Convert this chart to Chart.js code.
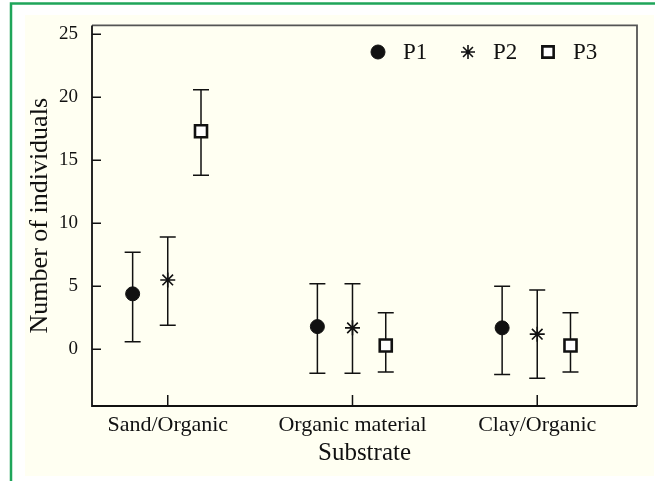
<!DOCTYPE html>
<html>
<head>
<meta charset="utf-8">
<script src="https://cdn.jsdelivr.net/npm/chart.js@4/dist/chart.umd.min.js"></script>
<style>
  html, body { margin: 0; padding: 0; background: #fff; }
  #wrap { width: 655px; height: 481px; position: relative; }
</style>
</head>
<body>
<div id="wrap"><canvas id="substrateChart" width="655" height="481"></canvas></div>
<script>
// categories and series (mean, lower, upper)
const substrates = ["Sand/Organic", "Organic material", "Clay/Organic"];
const seriesNames = ["P1", "P2", "P3"];
const p1Mean = [4.4, 1.8, 1.7];
const p1Low = [0.6, -1.9, -2.0];
const p1High = [7.7, 5.2, 5.0];
const p2Mean = [5.5, 1.7, 1.2];
const p2Low = [1.9, -1.9, -2.3];
const p2High = [8.9, 5.2, 4.7];
const p3Mean = [17.3, 0.3, 0.3];
const p3Low = [13.8, -1.8, -1.8];
const p3High = [20.6, 2.9, 2.9];
const yTicks = [0, 5, 10, 15, 20, 25];

const serif = "'Liberation Serif', 'DejaVu Serif', serif";
const ink = "#111";

// offset of each series inside a category group
const groupOffset = [-0.19, 0, 0.18];

function makeSet(idx, means, lows, highs, style) {
  return Object.assign({
    label: seriesNames[idx],
    data: means.map((m, i) => ({ x: i + 1 + groupOffset[idx], y: m, lo: lows[i], hi: highs[i] })),
    borderColor: ink,
    showLine: false,
  }, style);
}

const datasets = [
  makeSet(0, p1Mean, p1Low, p1High, { pointStyle: "circle", pointRadius: 7, backgroundColor: ink, borderWidth: 1 }),
  makeSet(1, p2Mean, p2Low, p2High, { pointStyle: "star", pointRadius: 7.5, backgroundColor: ink, borderWidth: 1.6 }),
  makeSet(2, p3Mean, p3Low, p3High, { pointStyle: "rect", pointRadius: 8.5, backgroundColor: "#fff", borderWidth: 2.6 }),
];

// page background: green frame + cream panel
const backdrop = {
  id: "backdrop",
  beforeDraw(chart) {
    const c = chart.ctx;
    c.save();
    c.fillStyle = "#fff";
    c.fillRect(0, 0, chart.width, chart.height);
    c.fillStyle = "#fffff2";
    c.fillRect(25, 15, 629, 461);
    c.strokeStyle = "#1fa55a";
    c.lineWidth = 2.5;
    c.strokeRect(11, 3.5, 654, 490);
    c.restore();
  }
};

// error bars with caps
const errorBars = {
  id: "errorBars",
  beforeDatasetsDraw(chart) {
    const c = chart.ctx;
    const xs = chart.scales.x, ys = chart.scales.y;
    c.save();
    c.strokeStyle = ink;
    c.lineWidth = 1.5;
    chart.data.datasets.forEach(ds => {
      ds.data.forEach(p => {
        const x = xs.getPixelForValue(p.x);
        const y1 = ys.getPixelForValue(p.lo);
        const y2 = ys.getPixelForValue(p.hi);
        c.beginPath();
        c.moveTo(x, y1); c.lineTo(x, y2);
        c.moveTo(x - 8, y1); c.lineTo(x + 8, y1);
        c.moveTo(x - 8, y2); c.lineTo(x + 8, y2);
        c.stroke();
      });
    });
    c.restore();
  }
};

// box frame and inward ticks
const frame = {
  id: "frame",
  afterDraw(chart) {
    const c = chart.ctx;
    const a = chart.chartArea;
    const xs = chart.scales.x, ys = chart.scales.y;
    c.save();
    c.lineWidth = 1.8;
    c.strokeStyle = "#555";
    c.beginPath();
    c.moveTo(a.left, a.top); c.lineTo(a.right, a.top); c.lineTo(a.right, a.bottom);
    c.stroke();
    c.strokeStyle = ink;
    c.beginPath();
    c.moveTo(a.left, a.top); c.lineTo(a.left, a.bottom); c.lineTo(a.right, a.bottom);
    c.stroke();
    c.lineWidth = 1.5;
    c.beginPath();
    ys.ticks.forEach(t => {
      const y = ys.getPixelForValue(t.value);
      c.moveTo(a.left, y); c.lineTo(a.left + 9, y);
    });
    xs.ticks.forEach(t => {
      const x = xs.getPixelForValue(t.value);
      c.moveTo(x, a.bottom); c.lineTo(x, a.bottom - 11);
    });
    c.stroke();
    c.restore();
  }
};

// legend drawn inside the plot, top right
const insideLegend = {
  id: "insideLegend",
  afterDraw(chart) {
    const c = chart.ctx;
    const xs = [378, 468, 548];
    c.save();
    c.font = "23px " + serif;
    c.textBaseline = "middle";
    chart.data.datasets.forEach((ds, i) => {
      c.strokeStyle = ds.borderColor;
      c.fillStyle = ds.backgroundColor;
      c.lineWidth = ds.borderWidth;
      Chart.helpers.drawPoint(c, {
        pointStyle: ds.pointStyle,
        radius: ds.pointStyle === "rect" ? 8 : 7,
        rotation: 0,
        borderWidth: ds.borderWidth,
      }, xs[i], 52);
      c.fillStyle = ink;
      c.fillText(ds.label, xs[i] + 25, 53);
    });
    c.restore();
  }
};

new Chart(document.getElementById("substrateChart"), {
  type: "scatter",
  data: { datasets },
  plugins: [backdrop, errorBars, frame, insideLegend],
  options: {
    responsive: false,
    animation: false,
    layout: { padding: { left: 25, top: 25, right: 18, bottom: 6 } },
    plugins: { legend: { display: false }, tooltip: { enabled: false } },
    scales: {
      x: {
        type: "linear",
        min: 0.59,
        max: 3.54,
        afterBuildTicks(s) { s.ticks = substrates.map((_, i) => ({ value: i + 1 })); },
        afterFit(s) { s.height = 69; },
        grid: { display: false, drawTicks: false },
        border: { display: false },
        ticks: {
          padding: 6,
          color: ink,
          font: { family: serif, size: 22 },
          callback: v => substrates[v - 1],
        },
        title: { display: true, text: "Substrate", color: ink, font: { family: serif, size: 25 }, padding: { top: 0, bottom: 7 } },
      },
      y: {
        min: -4.5,
        max: 25.7,
        afterBuildTicks(s) { s.ticks = yTicks.map(v => ({ value: v })); },
        afterFit(s) { s.width = 67; },
        grid: { display: false, drawTicks: false },
        border: { display: false },
        ticks: { padding: 14, color: ink, font: { family: serif, size: 19 } },
        title: { display: true, text: "Number of individuals", color: ink, font: { family: serif, size: 26 }, padding: { top: 0, bottom: 0 } },
      },
    },
  },
});
</script>
</body>
</html>
